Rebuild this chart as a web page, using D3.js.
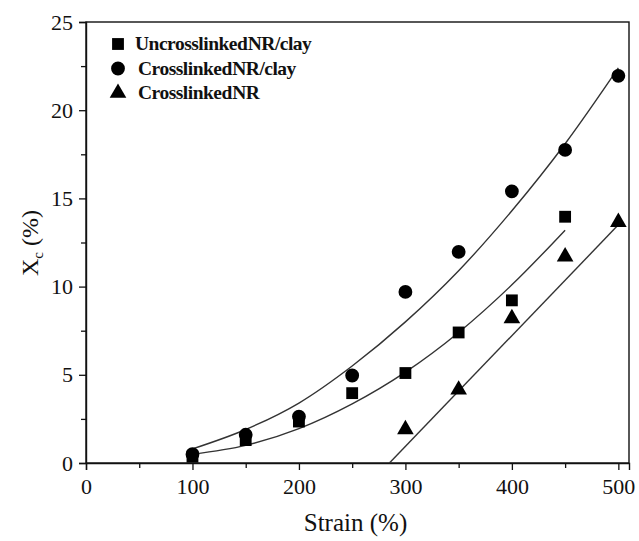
<!DOCTYPE html>
<html><head><meta charset="utf-8">
<script src="https://cdn.jsdelivr.net/npm/d3@7"></script>
<style>body{margin:0;background:#fff}</style>
</head><body>
<svg id="c" width="639" height="541"></svg>
<script>
const strain = [100,150,200,250,300,350,400,450,500];
const uncrossX = [100,150,200,250,300,350,400,450];
const uncrossY = [0.36,1.3,2.35,3.96,5.1,7.4,9.22,13.96];
const crossClayX = [100,150,200,250,300,350,400,450,500];
const crossClayY = [0.5,1.6,2.63,4.96,9.7,11.97,15.4,17.75,21.95];
const crossNRX = [300,350,400,450,500];
const crossNRY = [1.9,4.15,8.2,11.7,13.65];
// fitted curves
const fitClayX = [100,150,200,250,300,350,400,450,500];
const fitClayY = [0.8,1.9,3.4,5.5,8.0,10.9,14.3,18.1,22.4];
const fitUncrossX = [100,150,200,250,300,350,400,450];
const fitUncrossY = [0.5,1.0,1.95,3.35,5.15,7.4,10.1,13.2];
const fitNRX = [285,500];
const fitNRY = [0,13.5];
const xTicks = [0,100,200,300,400,500];
const yTicks = [0,5,10,15,20,25];
const legendLabels = ["Uncrosslinked NR/clay","Crosslinked NR/clay","Crosslinked NR"];

const svg = d3.select("#c");
const L=86, T=22, R=629, B=463;
const x = d3.scaleLinear().domain([0,510]).range([L,R]);
const y = d3.scaleLinear().domain([0,25]).range([B,T]);
const font = "Liberation Serif, DejaVu Serif, serif";

// frame
svg.append("rect").attr("x",L).attr("y",T).attr("width",R-L).attr("height",B-T)
  .attr("fill","none").attr("stroke","#111").attr("stroke-width",1.4);

// axes
svg.append("g").attr("transform",`translate(0,${B})`)
  .call(d3.axisBottom(x).tickValues(xTicks).tickFormat(d3.format("d")).tickSize(7).tickPadding(8));
svg.append("g").attr("transform",`translate(0,${B})`)
  .call(d3.axisBottom(x).tickValues(d3.range(50,500,100)).tickFormat("").tickSize(5))
  .select(".domain").remove();
svg.append("g").attr("transform",`translate(${L},0)`)
  .call(d3.axisLeft(y).tickValues(yTicks).tickFormat(d3.format("d")).tickSize(7).tickPadding(6));
svg.append("g").attr("transform",`translate(${L},0)`)
  .call(d3.axisLeft(y).tickValues(d3.range(2.5,25,5)).tickFormat("").tickSize(5))
  .select(".domain").remove();
svg.selectAll(".domain").attr("stroke","#111").attr("stroke-width",1.4);
svg.selectAll(".tick line").attr("stroke","#111").attr("stroke-width",1.3);
svg.selectAll(".tick text").style("font-family",font).style("font-size","22px").attr("fill","#111");

// titles
svg.append("text").attr("x",(L+R)/2-2).attr("y",531).attr("text-anchor","middle")
  .style("font-family",font).style("font-size","25px").attr("fill","#111").text("Strain (%)");
const yt = svg.append("text").attr("transform","translate(38,243) rotate(-90)").attr("text-anchor","middle")
  .style("font-family",font).style("font-size","24px").attr("fill","#111");
yt.append("tspan").text("X");
yt.append("tspan").style("font-size","15px").attr("dy",5).text("c");
yt.append("tspan").attr("dy",-5).text(" (%)");

// fit lines
const line = d3.line().x(d=>x(d[0])).y(d=>y(d[1])).curve(d3.curveMonotoneX);
[[fitClayX,fitClayY],[fitUncrossX,fitUncrossY],[fitNRX,fitNRY]].forEach(([xs,ys])=>{
  svg.append("path").datum(xs.map((v,i)=>[v,ys[i]])).attr("d",line)
    .attr("fill","none").attr("stroke","#333").attr("stroke-width",1.4);
});

// markers
const sq = d3.symbol().type(d3.symbolSquare).size(140);
const ci = d3.symbol().type(d3.symbolCircle).size(150);
const tr = d3.symbol().type(d3.symbolTriangle).size(120);
function pts(xs,ys,sym){
  svg.append("g").selectAll("path").data(xs.map((v,i)=>[v,ys[i]])).join("path")
    .attr("d",sym).attr("transform",d=>`translate(${x(d[0])},${y(d[1])})`).attr("fill","#000");
}
pts(crossClayX,crossClayY,ci);
pts(uncrossX,uncrossY,sq);
pts(crossNRX,crossNRY,tr);

// legend
const syms=[sq,ci,tr];
legendLabels.forEach((t,i)=>{
  const yy = 44+i*24.5;
  svg.append("path").attr("d",syms[i]).attr("transform",`translate(118,${yy})`).attr("fill","#000");
  svg.append("text").attr("x",135 + (i>0?3:0)).attr("y",yy+6).style("font-family",font)
    .style("font-weight","bold").style("font-size","19.5px").style("letter-spacing","-0.5px").style("word-spacing","-4px")
    .attr("fill","#111").text(t);
});
</script>
</body></html>
